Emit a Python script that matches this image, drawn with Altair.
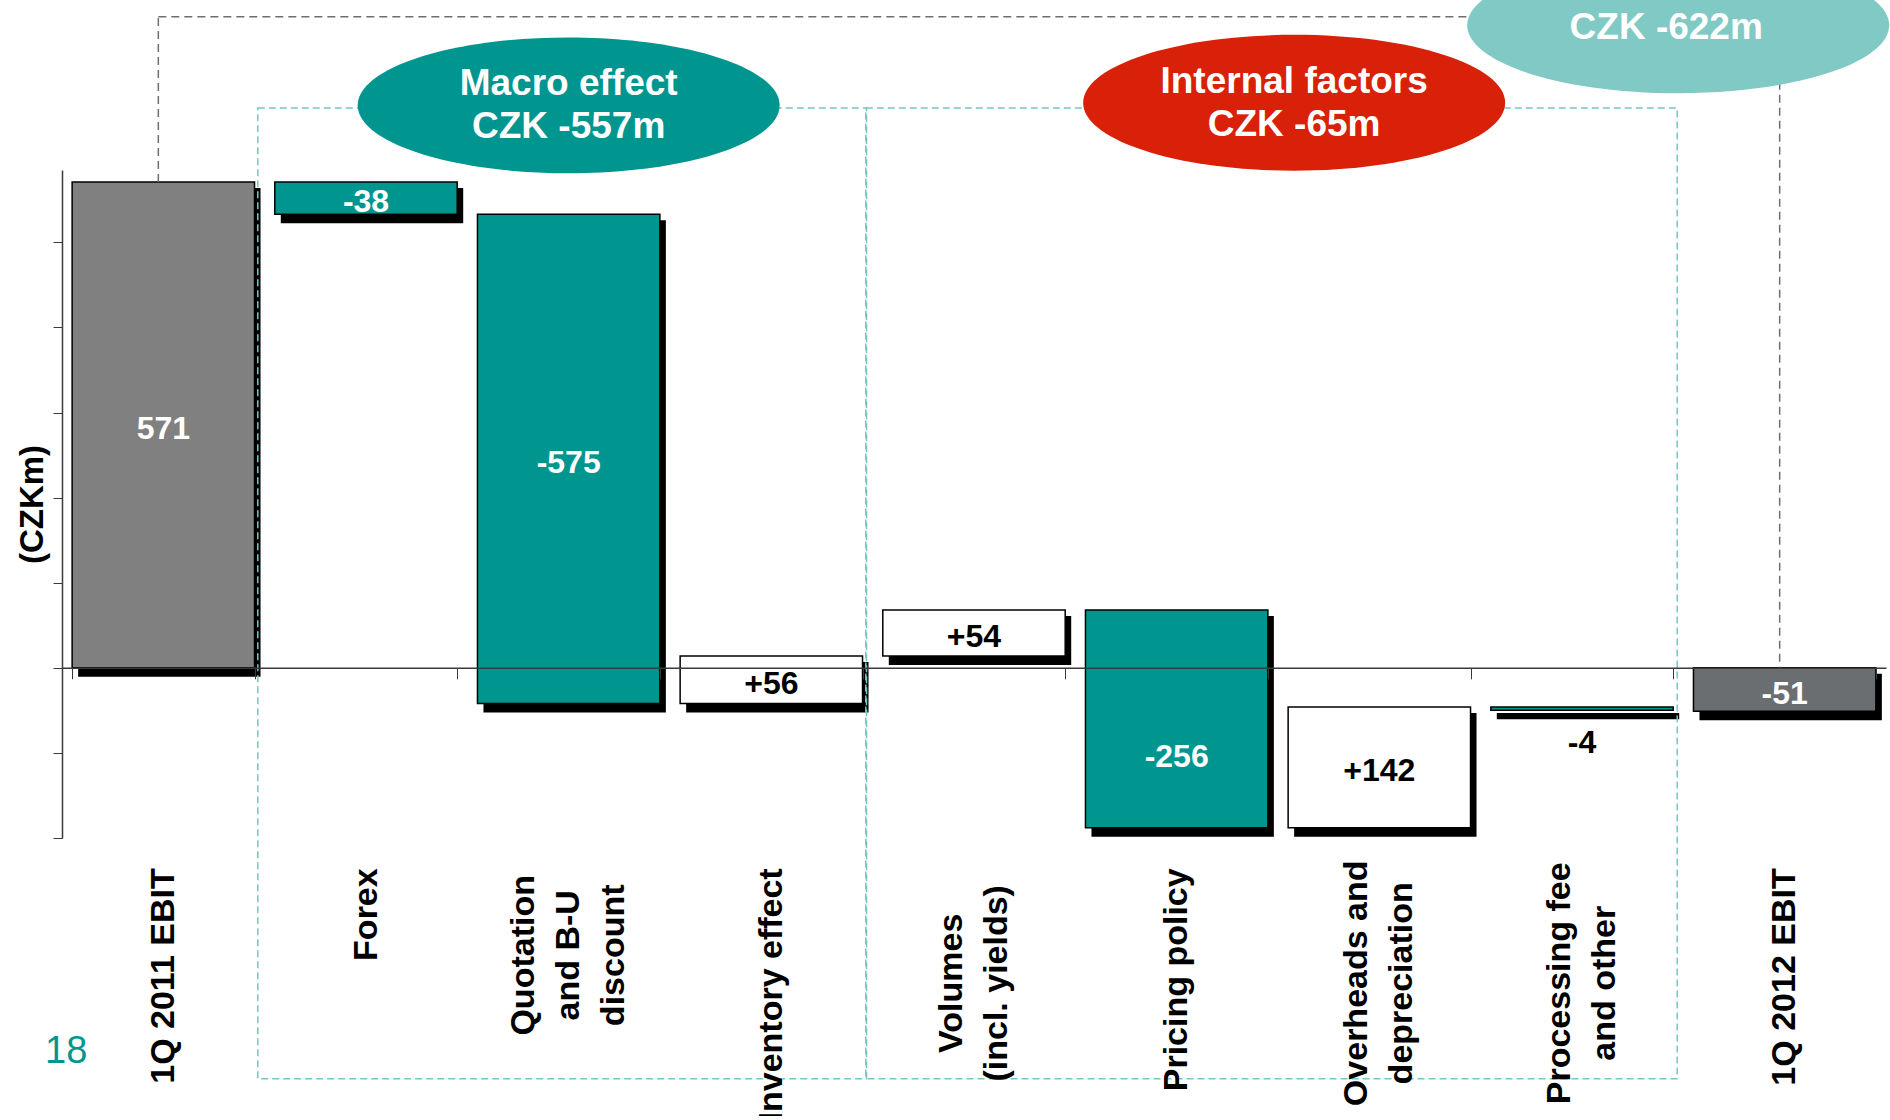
import altair as alt
import pandas as pd

FONT = "Liberation Sans"

# ---- data -------------------------------------------------------------
categories = [
    "1Q 2011 EBIT",
    "Forex",
    "Quotation\nand B-U\ndiscount",
    "Inventory effect",
    "Volumes\n(incl. yields)",
    "Pricing policy",
    "Overheads and\ndepreciation",
    "Processing fee\nand other",
    "1Q 2012 EBIT",
]
values = [571, -38, -575, 56, 54, -256, 142, -4, -51]

group_titles = ["Macro effect\nCZK -557m", "Internal factors\nCZK -65m"]
group_first = [1, 4]   # index of first bridge step in each group
group_last = [3, 7]    # index of last bridge step in each group
total_title = "CZK -622m"
page_number = "18"

# ---- layout / styling --------------------------------------------------
W, H = 1824, 668
PAD = {"left": 62, "top": 170, "right": 4, "bottom": 278}
Y_MIN, Y_MAX = -200, 585

TEAL = "#00968F"
LIGHT_TEAL = "#80C9C4"
RED = "#D92008"
BOX_DASH = "#74C7C2"

CAT_FONT_SIZE = 34
CAT_LINE_HEIGHT = 45
CAT_PADDING = 189                    # gap between tick end and label top
CAT_BLOCK_HALF = {3: 87, 2: 115}     # half length of a multi-line label block

# vertical levels (in CZKm units) for annotations drawn around the plot
BOX_TOP, BOX_BOTTOM = 658, -483
LINK_LEVEL = 765
BUBBLE_LEVEL = [661, 664]
TOTAL_BUBBLE_LEVEL = 755
PAGE_NO_LEVEL = -452
LOWERED_LABEL_STEP = 5   # the pricing-policy label sits lower in its bar

# ---- waterfall table ---------------------------------------------------
rows = []
running = 0
last = len(values) - 1
for i, (cat, v) in enumerate(zip(categories, values)):
    if i == 0:
        lo, hi, kind = 0, v, "start"
        running = v
    elif i == last:
        lo, hi, kind = 0, v, "end"
    else:
        lo, hi = running, running + v
        running = hi
        kind = "up" if v > 0 else "down"
    label = str(v) if kind in ("start", "end") else f"{v:+d}"
    rows.append(dict(cat=cat, idx=i, delta=v, top=max(lo, hi), bot=min(lo, hi),
                     mid=(lo + hi) / 2, kind=kind, label=label))
df = pd.DataFrame(rows)

xscale = alt.Scale(domain=categories, paddingInner=0.1, paddingOuter=0.05)
yscale = alt.Scale(domain=[Y_MIN, Y_MAX], nice=False, zero=False)


def xenc(field, band=0.5, **kw):
    return alt.X(f"{field}:N", sort=categories, scale=xscale, bandPosition=band,
                 title=None, **kw)


zero_offset = -(0 - Y_MIN) / (Y_MAX - Y_MIN) * H

# multi-line category labels: lines centred on each other and on the band
n_lines = "length(split(datum.value, '\\n'))"
label_shift = {
    "condition": [
        {"test": f"{n_lines} == 3", "value": -CAT_LINE_HEIGHT},
        {"test": f"{n_lines} == 2", "value": -CAT_LINE_HEIGHT / 2},
    ],
    "value": 0,
}
label_align = {"condition": {"test": f"{n_lines} > 1", "value": "center"}, "value": "right"}
label_pad = {
    "condition": [
        {"test": f"{n_lines} == 3", "value": CAT_PADDING + CAT_BLOCK_HALF[3]},
        {"test": f"{n_lines} == 2", "value": CAT_PADDING + CAT_BLOCK_HALF[2]},
    ],
    "value": CAT_PADDING,
}

x_axis = alt.Axis(
    title=None, orient="bottom", offset=zero_offset, zindex=1,
    domainColor="#3a3a3a", domainWidth=1.5,
    tickColor="#3a3a3a", tickWidth=1, tickSize=11, tickBand="extent",
    labelAngle=270, labelAlign=label_align, labelBaseline="middle",
    labelFont=FONT, labelFontSize=CAT_FONT_SIZE, labelFontWeight="bold",
    labelColor="black", labelLineHeight=CAT_LINE_HEIGHT, labelOffset=label_shift,
    labelPadding=label_pad, labelLimit=600, labelOverlap=False,
    labelExpr="split(datum.label, '\\n')",
)
y_axis = alt.Axis(
    values=list(range(-200, 501, 100)), labels=False, grid=False,
    tickSize=9, tickColor="#3a3a3a", domainColor="#3a3a3a", domainWidth=1.5,
    title="(CZKm)", titleFont=FONT, titleFontSize=33, titleFontWeight="bold",
    titleColor="black", titleAngle=270, titleAlign="center", titleBaseline="middle",
    titleX=-30, titleY=H / 2,
)

base = alt.Chart(df)

shadow = base.mark_bar(color="black", xOffset=6, yOffset=6, y2Offset=9).encode(
    x=xenc("cat", axis=x_axis),
    y=alt.Y("top:Q", scale=yscale, axis=y_axis),
    y2="bot:Q",
)

bars = base.mark_bar(stroke="black", strokeWidth=1.5).encode(
    x=xenc("cat"),
    y=alt.Y("top:Q", scale=yscale),
    y2="bot:Q",
    color=alt.Color("kind:N", legend=None, scale=alt.Scale(
        domain=["start", "down", "up", "end"],
        range=["#808080", TEAL, "#FFFFFF", "#6A6E70"])),
)

label_style = dict(font=FONT, fontSize=32, fontWeight="bold", baseline="middle")

labels_inside = base.transform_filter(
    f"abs(datum.delta) >= 10 && datum.idx != {LOWERED_LABEL_STEP}"
).mark_text(dy=4, **label_style).encode(
    x=xenc("cat"), y=alt.Y("mid:Q", scale=yscale), text="label:N",
    color=alt.condition("datum.kind == 'up'", alt.value("black"), alt.value("white")),
)

labels_low = base.transform_filter(
    f"datum.idx == {LOWERED_LABEL_STEP}"
).mark_text(color="white", dy=38, **label_style).encode(
    x=xenc("cat"), y=alt.Y("mid:Q", scale=yscale), text="label:N"
)

labels_below = base.transform_filter("abs(datum.delta) < 10").mark_text(
    color="black", dy=33, **label_style
).encode(x=xenc("cat"), y=alt.Y("bot:Q", scale=yscale), text="label:N")

# dashed frames around the two groups of bridge steps
boxes_df = pd.DataFrame({
    "first": [categories[i] for i in group_first],
    "last": [categories[i] for i in group_last],
})
boxes = alt.Chart(boxes_df).mark_rect(
    fill="white", fillOpacity=0, stroke=BOX_DASH, strokeWidth=1.5,
    strokeDash=[7, 4], xOffset=-17, x2Offset=4,
).encode(
    x=xenc("first", band=0),
    x2=alt.X2("last:N", bandPosition=1),
    y=alt.datum(BOX_TOP),
    y2=alt.datum(BOX_BOTTOM),
)

# dashed connector from the opening to the closing EBIT
link_df = pd.DataFrame({
    "a": [categories[0], categories[0], categories[-1]],
    "b": [categories[0], categories[-1], categories[-1]],
    "y1": [values[0], LINK_LEVEL, LINK_LEVEL],
    "y2": [LINK_LEVEL, LINK_LEVEL, 0],
})
link = alt.Chart(link_df).mark_rule(
    color="#6E6E6E", strokeWidth=1.5, strokeDash=[8, 5], xOffset=-5, x2Offset=-5
).encode(
    x=xenc("a"), x2=alt.X2("b:N", bandPosition=0.5),
    y=alt.Y("y1:Q", scale=yscale), y2="y2:Q",
)

ELLIPSE = "M -1 0 A 1 0.322 0 1 1 1 0 A 1 0.322 0 1 1 -1 0 Z"
ELLIPSE_SIZE = 422 ** 2


def bubble(cat, band, dx, level, fill, text, text_dx=0, text_dy=0):
    d = pd.DataFrame({"c": [cat], "v": [level], "t": [text]})
    shape = alt.Chart(d).mark_point(
        shape=ELLIPSE, size=ELLIPSE_SIZE, filled=True, fill=fill, opacity=1,
        strokeWidth=0, xOffset=dx,
    ).encode(x=xenc("c", band=band), y=alt.Y("v:Q", scale=yscale))
    words = alt.Chart(d).mark_text(
        font=FONT, fontSize=37, fontWeight="bold", color="white",
        lineBreak="\n", lineHeight=43, baseline="middle", align="center",
        xOffset=dx + text_dx, dy=text_dy,
    ).encode(x=xenc("c", band=band), y=alt.Y("v:Q", scale=yscale), text="t:N")
    return shape + words


macro = bubble(categories[2], 0.5, 0, BUBBLE_LEVEL[0], TEAL, group_titles[0], text_dy=-21)
internal = bubble(categories[6], 0, 6, BUBBLE_LEVEL[1], RED, group_titles[1], text_dy=-21)
total = bubble(categories[7], 1, 5, TOTAL_BUBBLE_LEVEL, LIGHT_TEAL, total_title,
               text_dx=-12, text_dy=3)

page_df = pd.DataFrame({"c": [categories[0]], "v": [PAGE_NO_LEVEL], "t": [page_number]})
page = alt.Chart(page_df).mark_text(
    font=FONT, fontSize=38, color=TEAL, align="center", baseline="middle", xOffset=-6
).encode(x=xenc("c", band=0), y=alt.Y("v:Q", scale=yscale), text="t:N")

chart = alt.layer(
    shadow, bars, labels_inside, labels_low, labels_below,
    boxes, link, total, macro, internal, page,
).properties(
    width=W, height=H,
    autosize=alt.AutoSizeParams(type="none"),
    padding=PAD,
    background="white",
).configure_view(stroke=None)

chart.save("out.html", embed_options={"renderer": "svg", "actions": False})
